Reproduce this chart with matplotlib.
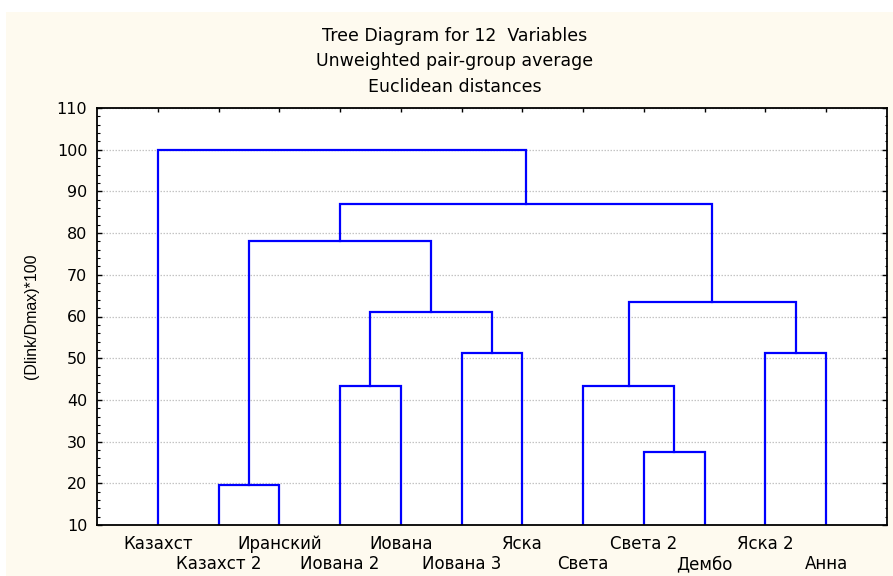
import matplotlib
matplotlib.use("Agg")
import matplotlib.pyplot as plt
import matplotlib.transforms as mtransforms
from matplotlib.patches import Rectangle
from matplotlib.ticker import MultipleLocator

# Leaves in the order the tree draws them
leaf_labels = ["Казахст", "Казахст 2", "Иранский", "Иована 2", "Иована", "Иована 3",
               "Яска", "Света", "Света 2", "Дембо", "Яска 2", "Анна"]

# Joins: (left child, right child, linkage distance); ids 0..11 are leaves,
# each join gets the next id starting at 12
join_left = [1, 8, 3, 7, 5, 10, 14, 15, 12, 20, 0]
join_right = [2, 9, 4, 13, 6, 11, 16, 17, 18, 19, 21]
join_dist = [19.5, 27.5, 43.4, 43.3, 51.3, 51.3, 61.1, 63.5, 78.2, 87.0, 100.0]

title_lines = ["Tree Diagram for 12  Variables", "Unweighted pair-group average",
               "Euclidean distances"]
y_title = "(Dlink/Dmax)*100"
y_min, y_max = 10, 110

cream = "#fefaef"
blue = "#0000ff"

fig = plt.figure(figsize=(8.93, 5.76), dpi=100, facecolor="white")
fig.patches.append(Rectangle((6 / 893, 0), 1, 1 - 12 / 576, transform=fig.transFigure,
                             facecolor=cream, edgecolor="none", zorder=-10))

ax = fig.add_axes([97 / 893, 51 / 576, 790 / 893, 417 / 576])
ax.set_facecolor("white")

# positions and heights of every node
n = len(leaf_labels)
xpos = [i + 1 for i in range(n)]
height = [y_min] * n
for a, b, d in zip(join_left, join_right, join_dist):
    ax.plot([xpos[a], xpos[a], xpos[b], xpos[b]], [height[a], d, d, height[b]],
            color=blue, lw=1.6, solid_joinstyle="miter", zorder=3)
    xpos.append((xpos[a] + xpos[b]) / 2)
    height.append(d)

ax.set_xlim(0, n + 1)
ax.set_ylim(y_min, y_max)

ax.set_xticks(range(1, n + 1))
ax.set_xticklabels([])
ax.tick_params(axis="x", bottom=False, top=True, direction="in", length=3, width=1)

ax.yaxis.set_major_locator(MultipleLocator(10))
ax.yaxis.set_minor_locator(MultipleLocator(2))
ax.tick_params(axis="y", which="both", left=True, right=True, direction="in",
               labelsize=11.5, pad=7)
ax.tick_params(axis="y", which="major", length=3.5, width=1)
ax.tick_params(axis="y", which="minor", length=1.8, width=0.8)
for lab in ax.get_yticklabels():
    lab.set_fontfamily("DejaVu Sans")

ax.yaxis.grid(True, which="major", color="#c4c4c4", linestyle=(0, (1.2, 1.2)), lw=0.9)
ax.set_axisbelow(True)
for s in ax.spines.values():
    s.set_linewidth(1.3)
    s.set_zorder(4)

# leaf names on two alternating rows under the axis
trans = mtransforms.blended_transform_factory(ax.transData, ax.transAxes)
for i, name in enumerate(leaf_labels):
    row_y = -0.0583 if i % 2 == 0 else -0.1062
    ax.text(i + 1, row_y, name, transform=trans, ha="center", va="baseline",
            fontsize=12, family="DejaVu Sans")

for k, (line, base) in enumerate(zip(title_lines, [41, 66, 91.5])):
    fig.text(455 / 893, 1 - base / 576, line, ha="center", va="baseline",
             fontsize=12.5, family="DejaVu Sans")

fig.text(31 / 893, 1 - 316 / 576, y_title, rotation=90, ha="center", va="center",
         fontsize=11.5, family="Liberation Sans")

fig.savefig("out.png", dpi=100, facecolor=fig.get_facecolor())
